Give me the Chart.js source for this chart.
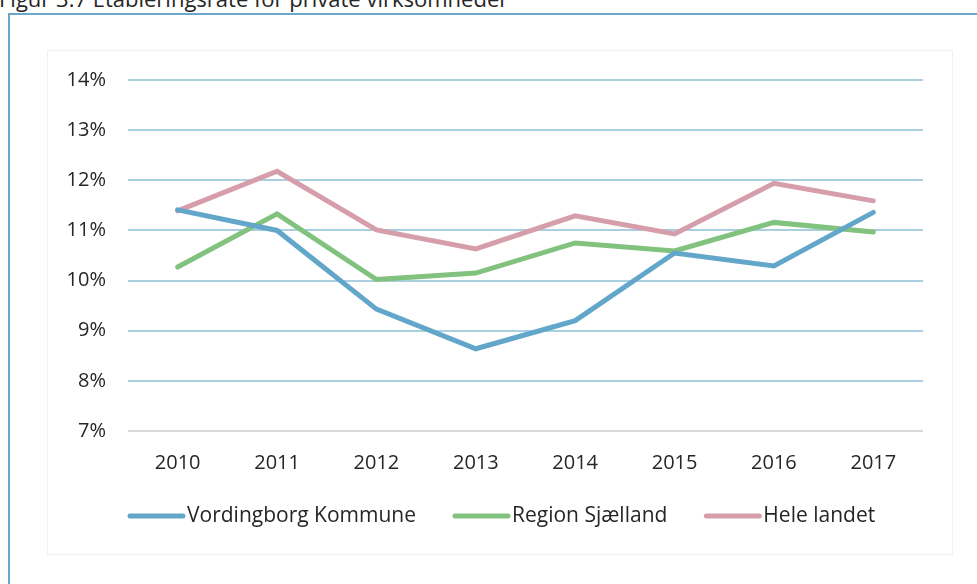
<!DOCTYPE html>
<html>
<head>
<meta charset="utf-8">
<script src="https://cdn.jsdelivr.net/npm/chart.js@4/dist/chart.umd.min.js"></script>
<style>
  html, body { margin: 0; padding: 0; background: #fff; overflow: hidden; }
  body { width: 977px; height: 584px; position: relative; font-family: "Open Sans", sans-serif; }
  #title { position: absolute; left: -1px; top: -13px; font-size: 22px; line-height: 22px; color: #262626; white-space: nowrap; }
  #frame { position: absolute; left: 8px; top: 13px; width: 1000px; height: 600px; border: 2px solid #6ba7ca; box-sizing: border-box; background: #fff; }
  #inner { position: absolute; left: 47px; top: 50px; width: 906px; height: 505px; border: 1px solid #f1f1f1; box-sizing: border-box; }
  #wrap { position: absolute; left: 0; top: 0; width: 977px; height: 584px; }
</style>
</head>
<body>
<div id="title">Figur 3.7 Etableringsrate for private virksomheder</div>
<div id="frame"></div>
<div id="inner"></div>
<div id="wrap"><canvas id="c" width="977" height="584"></canvas></div>
<script>
const years = ["2010", "2011", "2012", "2013", "2014", "2015", "2016", "2017"];
const vordingborg = [11.41, 11.0, 9.43, 8.64, 9.2, 10.55, 10.29, 11.36];
const regionSjaelland = [10.27, 11.33, 10.02, 10.15, 10.75, 10.59, 11.16, 10.97];
const heleLandet = [11.39, 12.18, 11.01, 10.63, 11.29, 10.93, 11.94, 11.59];
const seriesNames = ["Vordingborg Kommune", "Region Sjælland", "Hele landet"];
const seriesColors = ["#62a7c9", "#82c27f", "#d69eab"];

const FONT = '"Open Sans", sans-serif';
const textColor = '#262626';

const legendPlugin = {
  id: 'lineLegend',
  afterDraw(chart) {
    const ctx = chart.ctx;
    ctx.save();
    ctx.font = '21px ' + FONT;
    ctx.textBaseline = 'middle';
    ctx.textAlign = 'left';
    let x = 128;
    const y = 516;
    chart.data.datasets.forEach(ds => {
      ctx.strokeStyle = ds.borderColor;
      ctx.lineWidth = 5;
      ctx.lineCap = 'round';
      ctx.beginPath();
      ctx.moveTo(x + 2, y);
      ctx.lineTo(x + 55, y);
      ctx.stroke();
      ctx.fillStyle = textColor;
      ctx.fillText(ds.label, x + 59, y);
      x += 59 + ctx.measureText(ds.label).width + 37;
    });
    ctx.restore();
  }
};

const values = [vordingborg, regionSjaelland, heleLandet];

new Chart(document.getElementById('c'), {
  type: 'line',
  data: {
    labels: years,
    datasets: values.map((v, i) => ({
      label: seriesNames[i],
      data: v,
      borderColor: seriesColors[i],
      backgroundColor: seriesColors[i],
      borderWidth: 5,
      pointRadius: 0,
      tension: 0,
      borderCapStyle: 'round',
      borderJoinStyle: 'miter',
      fill: false
    }))
  },
  options: {
    responsive: false,
    animation: false,
    layout: { padding: { top: 80, right: 54, bottom: 93, left: 0 } },
    plugins: { legend: { display: false }, tooltip: { enabled: false }, title: { display: false } },
    scales: {
      x: {
        type: 'category',
        offset: true,
        grid: { display: false, drawTicks: false },
        border: { display: false },
        ticks: { color: textColor, font: { family: FONT, size: 20 }, padding: 20, maxRotation: 0 },
        afterFit(s) { s.height = 60; }
      },
      y: {
        min: 7, max: 14,
        ticks: { stepSize: 1, color: textColor, font: { family: FONT, size: 20 }, padding: 22, callback: v => v + '%' },
        grid: {
          drawTicks: false,
          lineWidth: 2,
          color: c => (c.tick && c.tick.value === 7) ? '#d9d9d9' : '#a9cfe1'
        },
        border: { display: false },
        afterFit(s) { s.width = 128; }
      }
    }
  },
  plugins: [legendPlugin]
});
</script>
</body>
</html>
